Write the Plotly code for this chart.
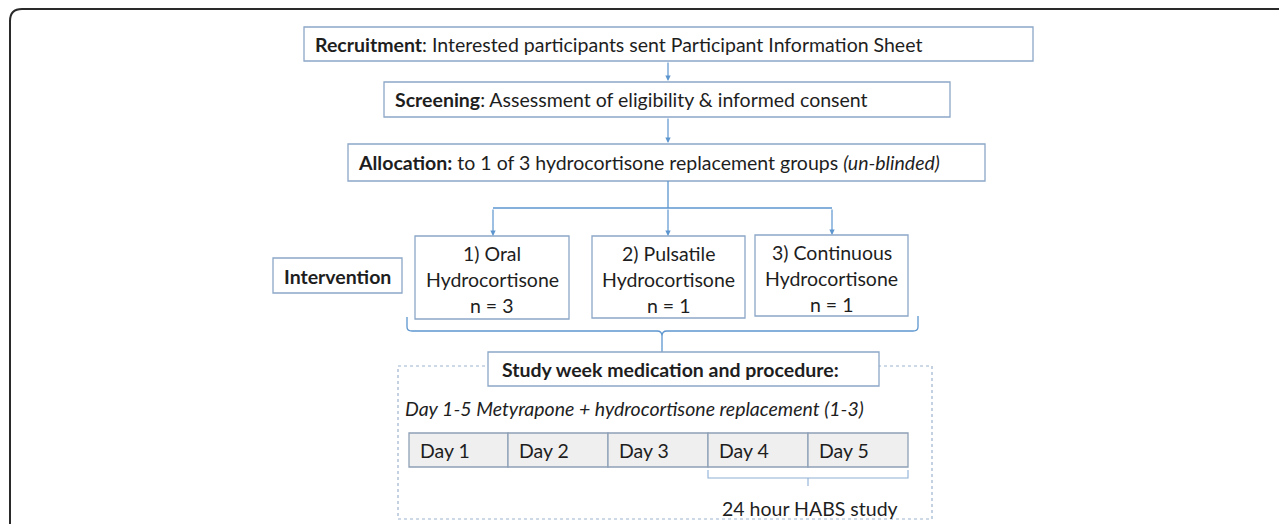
import plotly.graph_objects as go

# ---- data (text content) ----
stage_titles = ["Recruitment", "Screening", "Allocation:"]
stage_texts = [": Interested participants sent Participant Information Sheet",
               ": Assessment of eligibility & informed consent",
               " to 1 of 3 hydrocortisone replacement groups <i>(un-blinded)</i>"]
group_names = ["Oral", "Pulsatile", "Continuous"]
group_n = [3, 1, 1]
day_labels = ["Day 1", "Day 2", "Day 3", "Day 4", "Day 5"]
side_label = "Intervention"
study_title = "Study week medication and procedure:"
study_sub = "Day 1-5 Metyrapone + hydrocortisone replacement (1-3)"
habs_label = "24 hour HABS study"

W, H = 1287, 524
OFF = 8  # page body margin compensation
FONT = "Lato"
FS = 19.5
TXT = "#1e1e1e"
BOX = "#8ca7c7"
ARR = "#5d96cf"

fig = go.Figure()
shapes = []
ann = []

def box(x0, y0, x1, y1, fill="white", color=BOX, width=1.3, dash=None):
    line = dict(color=color, width=width)
    if dash:
        line["dash"] = dash
    shapes.append(dict(type="rect", x0=x0, y0=y0, x1=x1, y1=y1, xref="x", yref="y",
                       line=line, fillcolor=fill, layer="above"))

def text(x, y, s, size=FS, anchor="left", bold=False):
    if bold:
        s = "<b>" + s + "</b>"
    ann.append(dict(x=x, y=y, xref="x", yref="y", text=s, showarrow=False,
                    xanchor=anchor, yanchor="middle",
                    font=dict(family=FONT, size=size, color=TXT)))

def arrow(x, y0, y1):
    ann.append(dict(x=x, y=y1, ax=x, ay=y0, xref="x", yref="y", axref="x", ayref="y",
                    text="", showarrow=True, arrowhead=2, arrowsize=0.9,
                    arrowwidth=1.2, arrowcolor=ARR, standoff=0))

def path(p, color=ARR, width=1.3, dash=None):
    line = dict(color=color, width=width)
    if dash:
        line["dash"] = dash
    shapes.append(dict(type="path", path=p, xref="x", yref="y", line=line, layer="above"))

# outer frame (top-left corner of a larger panel)
path("M 10,540 L 10,21 Q 10,9 22,9 L 1300,9", color="#2a2a2a", width=2)

# top stages
stage_boxes = [(304, 27, 1033, 61), (384, 82, 950, 117), (348, 144, 985, 181)]
stage_text_x = [313, 393, 356]
for (x0, y0, x1, y1), t, s, tx in zip(stage_boxes, stage_titles, stage_texts, stage_text_x):
    box(x0, y0, x1, y1)
    text(tx, (y0 + y1) / 2, "<b>" + t + "</b>" + s)

CX = 668
arrow(CX, 61, 81)
arrow(CX, 117, 143)

# branching
group_cx = [493, 668, 832]
path(f"M {CX},181 L {CX},208 M {group_cx[0]},208 L {group_cx[2]},208")
group_boxes = [(415, 236, 569, 319), (592, 236, 745, 318), (755, 235, 908, 316)]
for cx, (x0, y0, x1, y1), i, (name, n) in zip(group_cx, group_boxes, range(3), zip(group_names, group_n)):
    arrow(cx, 208, y0)
    box(x0, y0, x1, y1)
    mid = (x0 + x1) / 2
    text(mid, y0 + 17, f"{i+1}) {name}", anchor="center")
    text(mid, y0 + 43, "Hydrocortisone", anchor="center")
    text(mid, y0 + 69, f"n = {n}", anchor="center")

box(273, 258, 402, 293)
text(337.5, 276, side_label, bold=True, anchor="center")

# brace under groups
path("M 407,317 L 407,327 Q 407,331 412,331 L 657,331 Q 662,331 662,336 Q 662,331 667,331 "
     "L 913,331 Q 918,331 918,327 L 918,316")
path("M 662,336 L 662,353")

# dashed study region
box(398, 366, 932, 519, fill="rgba(0,0,0,0)", color="#9db3cf", width=1.2, dash="dot")
box(488, 352, 879, 386)
text(500, 369, study_title, bold=True)
text(403, 408, "<i>" + study_sub + "</i>")

day_x = [409, 508, 608, 708, 808, 908]
for i, d in enumerate(day_labels):
    box(day_x[i], 433, day_x[i + 1], 467, fill="#efefef", color="#8ea0b6")
    text(day_x[i] + 9, 450, d)

# brace under day 4-5
path("M 708,470 L 708,478 L 908,478 L 908,470 M 808,478 L 808,486", color="#8eb0d6", width=1.1)
text(810, 508, habs_label, anchor="center")

fig.update_layout(
    width=W, height=H, margin=dict(l=0, r=0, t=0, b=0),
    paper_bgcolor="white", plot_bgcolor="white",
    xaxis=dict(range=[OFF, W + OFF], visible=False, fixedrange=True),
    yaxis=dict(range=[H + OFF, OFF], visible=False, fixedrange=True),
    shapes=shapes, annotations=ann, showlegend=False,
)
fig.write_html("out.html")
